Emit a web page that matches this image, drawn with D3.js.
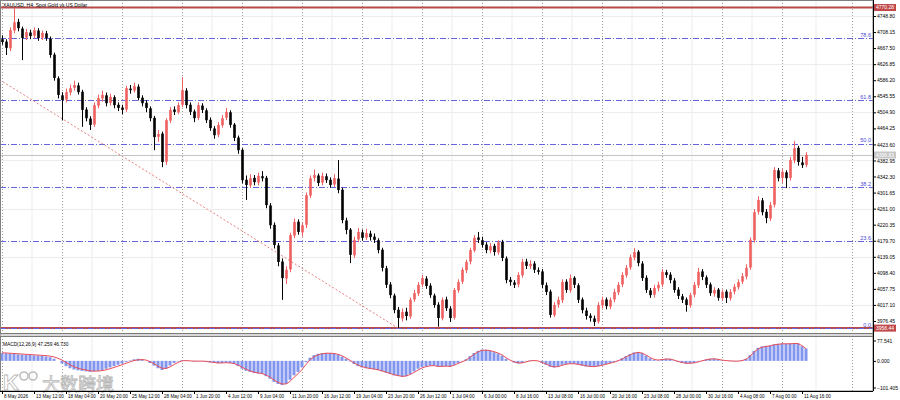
<!DOCTYPE html>
<html lang="en">
<head>
<meta charset="UTF-8">
<title>XAUUSD H4</title>
<script src="https://cdn.jsdelivr.net/npm/d3@7"></script>
<style>
    body { margin: 0; background: #fff; }
    svg { display: block; font-family: "Liberation Sans", Arial, sans-serif; }
</style>
</head>
<body>
<script>
// ---- data (one candle = two H4 bars) ----
const titleText = "XAUUSD, H4:  Spot Gold vs US Dollar";
const macdText = "MACD(12,26,9) 47.259 46.730";

const opens = [
    4690,4684,4667,4712,4734,4717,4694,4707,4699,4712,
    4694,4705,4692,4651,4591,4548,4537,4555,4567,4573,
    4557,4512,4489,4474,4522,4540,4548,4529,4543,4524,
    4517,4512,4565,4560,4570,4542,4529,4515,4491,4443,
    4451,4380,4484,4512,4505,4524,4560,4524,4507,4491,
    4522,4510,4486,4464,4448,4472,4491,4505,4474,4441,
    4410,4334,4320,4339,4327,4343,4339,4269,4220,4168,
    4127,4084,4107,4193,4228,4201,4220,4294,4339,4345,
    4327,4343,4334,4322,4337,4309,4231,4208,4143,4183,
    4201,4188,4198,4190,4181,4157,4110,4069,4041,4005,
    3983,4000,3988,4031,4046,4069,4084,4066,4041,4018,
    3983,4031,4008,3985,4054,4076,4105,4127,4155,4188,
    4181,4170,4155,4167,4150,4177,4135,4081,4074,4069,
    4092,4127,4115,4122,4105,4102,4067,4051,3991,4018,
    4029,4076,4054,4086,4067,4031,4003,3990,3983,3975,
    4016,4031,4013,4031,4049,4069,4092,4112,4137,4152,
    4122,4086,4054,4043,4059,4069,4100,4094,4079,4056,
    4039,4031,4016,4043,4067,4102,4087,4069,4046,4056,
    4034,4051,4034,4051,4062,4076,4089,4112,4181,4253,
    4282,4253,4236,4271,4358,4339,4353,4339,4383,4415,
    4378,4372];
const highs = [
    4700,4690,4720,4768,4742,4722,4716,4714,4720,4718,
    4712,4711,4697,4656,4596,4556,4565,4575,4585,4580,
    4562,4518,4495,4530,4550,4560,4555,4552,4548,4530,
    4524,4572,4574,4580,4576,4548,4535,4520,4496,4460,
    4456,4490,4518,4520,4530,4594,4566,4530,4512,4530,
    4528,4515,4492,4470,4480,4498,4516,4510,4478,4446,
    4414,4345,4348,4346,4352,4356,4344,4275,4226,4174,
    4135,4115,4200,4236,4234,4226,4302,4345,4360,4350,
    4352,4350,4340,4348,4384,4314,4238,4212,4190,4212,
    4208,4210,4205,4198,4186,4162,4116,4075,4046,4012,
    4008,4010,4036,4055,4075,4093,4090,4072,4046,4024,
    4036,4038,4014,4060,4082,4112,4132,4162,4194,4202,
    4190,4176,4174,4172,4181,4182,4140,4088,4080,4100,
    4134,4134,4130,4128,4112,4108,4074,4056,4024,4038,
    4082,4082,4094,4090,4072,4036,4010,3996,3990,4024,
    4038,4036,4036,4058,4075,4100,4118,4145,4161,4156,
    4128,4092,4060,4068,4076,4108,4106,4100,4085,4062,
    4045,4036,4048,4075,4111,4108,4092,4074,4062,4060,
    4056,4056,4057,4070,4082,4098,4120,4188,4260,4292,
    4288,4260,4278,4366,4364,4362,4358,4392,4432,4420,
    4392,4404];
const lows = [
    4676,4650,4660,4705,4710,4637,4688,4690,4692,4686,
    4688,4686,4643,4585,4540,4485,4530,4548,4560,4550,
    4468,4482,4460,4468,4515,4532,4520,4522,4515,4508,
    4500,4506,4552,4555,4535,4520,4505,4482,4409,4430,
    4366,4372,4478,4498,4500,4518,4515,4498,4480,4485,
    4503,4478,4458,4438,4442,4466,4485,4466,4432,4400,
    4325,4283,4314,4320,4320,4330,4262,4210,4160,4115,
    4030,4070,4100,4186,4195,4190,4212,4288,4330,4318,
    4320,4326,4314,4316,4300,4224,4196,4123,4136,4176,
    4180,4182,4180,4174,4148,4102,4060,4034,3996,3959,
    3975,3978,3982,4025,4040,4062,4058,4035,4010,3962,
    3978,4002,3974,3980,4048,4070,4098,4120,4150,4174,
    4162,4148,4148,4142,4144,4128,4072,4066,4060,4062,
    4086,4108,4108,4098,4094,4060,4042,3985,3986,4010,
    4022,4048,4048,4060,4022,3996,3980,3975,3964,3970,
    4008,4006,4006,4024,4042,4062,4086,4106,4130,4115,
    4078,4048,4035,4036,4052,4062,4086,4072,4048,4032,
    4022,4000,4010,4036,4060,4080,4060,4040,4038,4028,
    4028,4022,4028,4044,4056,4070,4082,4106,4175,4246,
    4244,4224,4230,4264,4330,4326,4313,4332,4376,4370,
    4364,4366];
const closes = [
    4683,4668,4713,4733,4718,4693,4708,4698,4713,4693,
    4706,4693,4650,4592,4549,4536,4556,4566,4574,4556,
    4511,4490,4473,4523,4541,4549,4528,4544,4523,4516,
    4511,4566,4561,4571,4541,4528,4516,4490,4442,4450,
    4379,4485,4511,4506,4523,4561,4523,4506,4490,4523,
    4511,4485,4465,4447,4473,4490,4506,4473,4440,4409,
    4333,4321,4338,4328,4344,4338,4270,4219,4169,4126,
    4085,4106,4194,4227,4202,4219,4295,4338,4346,4326,
    4344,4333,4321,4338,4308,4232,4207,4144,4182,4202,
    4187,4199,4189,4182,4156,4111,4068,4042,4004,3984,
    3999,3989,4030,4047,4068,4085,4065,4042,4017,3984,
    4030,4009,3984,4055,4075,4106,4126,4156,4187,4182,
    4169,4156,4166,4151,4176,4136,4080,4075,4068,4093,
    4126,4116,4121,4106,4101,4068,4050,3992,4017,4030,
    4075,4055,4085,4068,4030,4004,3989,3984,3974,4017,
    4030,4014,4030,4050,4068,4093,4111,4138,4151,4123,
    4085,4055,4042,4060,4068,4101,4093,4080,4055,4040,
    4030,4017,4042,4068,4101,4088,4068,4047,4055,4035,
    4050,4035,4050,4063,4075,4090,4111,4182,4252,4283,
    4252,4237,4270,4359,4338,4354,4338,4384,4414,4379,
    4371,4397];

const macdMain = [
    30,29,28,27,25,24,23,22,21,20,
    19,17,14,8,0,-10,-20,-28,-33,-36,
    -38,-40,-42,-40,-38,-35,-30,-25,-20,-15,
    -10,-4,2,6,8,6,0,-8,-18,-28,
    -35,-30,-18,-8,-2,3,2,0,-2,-1,
    -1,-3,-6,-8,-9,-8,-6,-8,-12,-20,
    -30,-38,-42,-46,-48,-50,-58,-68,-80,-88,
    -92,-88,-72,-55,-42,-25,-5,12,22,27,
    29,30,30,28,24,16,8,-2,-12,-20,
    -25,-28,-30,-32,-35,-40,-45,-50,-55,-58,
    -60,-58,-50,-40,-30,-24,-20,-18,-18,-22,
    -20,-20,-22,-15,-8,-2,6,18,30,38,
    43,42,38,33,28,20,8,0,-6,-10,
    -8,-2,2,2,0,-8,-15,-22,-25,-22,
    -15,-12,-10,-11,-14,-18,-21,-22,-22,-20,
    -16,-12,-8,-4,2,10,18,26,32,34,
    30,20,10,4,2,6,8,7,2,-4,
    -8,-11,-10,-8,-3,1,5,8,8,6,
    2,0,-1,-2,-1,2,8,22,38,50,
    55,57,58,63,65,66,65,66,67,66,
    56,47.26];
const macdSignal = [
    31,30,29,28,27,26,25,24,23,22,
    21,20,18,15,10,3,-6,-15,-22,-28,
    -32,-35,-38,-39,-39,-37,-34,-30,-25,-20,
    -15,-9,-4,1,4,5,3,-3,-11,-20,
    -28,-29,-23,-14,-6,0,1,0,-1,-1,
    -1,-2,-4,-6,-8,-8,-7,-8,-10,-16,
    -24,-32,-38,-43,-46,-48,-54,-62,-73,-82,
    -88,-88,-78,-63,-49,-33,-14,4,16,23,
    27,29,29,28,25,19,11,2,-8,-16,
    -22,-26,-29,-31,-34,-38,-43,-48,-53,-56,
    -59,-58,-52,-44,-35,-27,-22,-19,-18,-21,
    -21,-20,-21,-17,-10,-4,3,14,25,34,
    40,41,39,35,30,23,12,3,-4,-8,
    -8,-4,0,1,0,-6,-12,-19,-23,-22,
    -17,-13,-11,-11,-13,-16,-19,-21,-22,-20,
    -17,-13,-9,-5,0,7,15,23,29,32,
    30,22,13,6,3,5,7,7,3,-2,
    -6,-9,-9,-8,-4,0,4,7,8,6,
    3,1,0,-1,-1,1,6,18,33,45,
    52,55,57,61,63,65,65,65,66,66,
    58,46.73];

const priceTicks = [4748.80, 4708.15, 4667.50, 4626.85, 4586.20, 4545.55, 4504.90, 4464.25,
    4423.60, 4382.95, 4342.30, 4301.65, 4261.00, 4220.35, 4179.70, 4139.05, 4098.40, 4057.75,
    4017.10, 3976.45];
const gridPrices = [4748.80, 4626.85, 4504.90, 4382.95, 4261.00, 4139.05, 4017.10];
const macdTicks = [77.541, 0, -101.405];

const dateLabels = ["8 May 2026", "13 May 12:00", "18 May 04:00", "20 May 20:00", "25 May 12:00",
    "28 May 04:00", "1 Jun 20:00", "4 Jun 12:00", "9 Jun 04:00", "11 Jun 20:00", "16 Jun 12:00",
    "19 Jun 04:00", "23 Jun 20:00", "26 Jun 12:00", "1 Jul 04:00", "6 Jul 00:00", "8 Jul 16:00",
    "13 Jul 08:00", "16 Jul 00:00", "20 Jul 16:00", "23 Jul 08:00", "28 Jul 00:00", "30 Jul 16:00",
    "4 Aug 08:00", "7 Aug 00:00", "11 Aug 16:00"];
const labelBars = [0, 8, 16, 24, 32, 40, 48, 56, 64, 72, 80, 88, 96, 104, 112, 120, 128, 136,
    144, 152, 160, 168, 176, 184, 192, 200];
const gridBars = [0, 15, 30, 45, 60, 75, 90, 105, 120, 135, 150, 165, 180, 195, 212.5];
const minorGridBars = [7.5, 22.5, 37.5, 52.5, 67.5, 82.5, 97.5, 112.5, 127.5, 142.5, 157.5,
    172.5, 187.5, 203.5];

const highLine = 4770.28;
const lowLine = 3958.44;
const bidLine = 4396.83;
const fibHigh = 4893.04;
const fibLow = 3958.44;
const fibLevels = [0, 23.6, 38.2, 50.0, 61.8, 78.6];
const fibTrend = [[-49, 4893.04], [99, 3958.44]];

// ---- layout ----
const W = 900, H = 400;
const plotRight = 873;
const mainBottom = 333;
const macdTop = 338, macdBottom = 391;

const bullColor = "#ef6060";
const bearColor = "#000000";
const fibColor = "#6464de";
const redLine = "#b84a4a";

const svg = d3.select("body").append("svg")
    .attr("width", W)
    .attr("height", H)
    .style("background", "#fff");

const defs = svg.append("defs");
defs.append("clipPath").attr("id", "clipMain")
    .append("rect").attr("x", 0).attr("y", 0).attr("width", plotRight).attr("height", mainBottom);
defs.append("clipPath").attr("id", "clipMacd")
    .append("rect").attr("x", 0).attr("y", macdTop).attr("width", plotRight).attr("height", macdBottom - macdTop);

const xscale = d3.scaleLinear().domain([0, 218]).range([2, 874]);
const yscale = d3.scaleLinear().domain([3976.45, 4748.80]).range([321, 16]);
const macdY = d3.scaleLinear().domain([-101.405, 77.541]).range([387.5, 340.5]);

const idx = d3.range(closes.length);

// grid
const grid = svg.append("g");
grid.selectAll(".vminor").data(minorGridBars).join("line")
    .attr("x1", d => xscale(d)).attr("x2", d => xscale(d))
    .attr("y1", 0).attr("y2", macdBottom)
    .attr("stroke", "#ececec").attr("stroke-width", 1);
grid.selectAll(".hminor").data(gridPrices).join("line")
    .attr("x1", 0).attr("x2", plotRight)
    .attr("y1", d => Math.round(yscale(d)) + 0.5).attr("y2", d => Math.round(yscale(d)) + 0.5)
    .attr("stroke", "#ececec").attr("stroke-width", 1);
grid.selectAll(".vmajor").data(gridBars).join("line")
    .attr("x1", d => Math.round(xscale(d)) + 0.5).attr("x2", d => Math.round(xscale(d)) + 0.5)
    .attr("y1", 0).attr("y2", macdBottom)
    .attr("stroke", "#9a9a9a").attr("stroke-width", 1)
    .attr("stroke-dasharray", "1,2");

const main = svg.append("g").attr("clip-path", "url(#clipMain)");

// high / low lines
main.selectAll(".hl").data([highLine, lowLine]).join("line")
    .attr("x1", 0).attr("x2", plotRight)
    .attr("y1", d => yscale(d)).attr("y2", d => yscale(d))
    .attr("stroke", redLine).attr("stroke-width", 2);

// fibonacci levels
const fibPrice = lv => fibLow + (fibHigh - fibLow) * lv / 100;
main.selectAll(".fib").data(fibLevels).join("line")
    .attr("x1", 0).attr("x2", plotRight)
    .attr("y1", d => Math.round(yscale(fibPrice(d))) + 0.5)
    .attr("y2", d => Math.round(yscale(fibPrice(d))) + 0.5)
    .attr("stroke", fibColor).attr("stroke-width", 1)
    .attr("stroke-dasharray", "6,2,1,2");
main.selectAll(".fibtxt").data(fibLevels).join("text")
    .attr("x", plotRight - 2)
    .attr("y", d => yscale(fibPrice(d)) - 1.5)
    .attr("text-anchor", "end")
    .attr("font-size", 5.5)
    .attr("fill", "#4a4ad8")
    .text(d => d.toFixed(1));

// fib trend line
main.append("path")
    .datum(fibTrend)
    .attr("d", d3.line().x(d => xscale(d[0])).y(d => yscale(d[1])))
    .attr("fill", "none")
    .attr("stroke", "#e88080")
    .attr("stroke-width", 1)
    .attr("stroke-dasharray", "2,2");

// bid line
main.append("line")
    .attr("x1", 0).attr("x2", plotRight)
    .attr("y1", Math.round(yscale(bidLine)) + 0.5).attr("y2", Math.round(yscale(bidLine)) + 0.5)
    .attr("stroke", "#c4c4c4").attr("stroke-width", 1);

// candles
const isBull = i => closes[i] >= opens[i];
main.selectAll(".wick").data(idx).join("line")
    .attr("x1", i => xscale(i) + 0.5).attr("x2", i => xscale(i) + 0.5)
    .attr("y1", i => yscale(highs[i])).attr("y2", i => yscale(lows[i]))
    .attr("stroke", i => isBull(i) ? bullColor : bearColor)
    .attr("stroke-width", 1);
main.selectAll(".body").data(idx).join("rect")
    .attr("x", i => xscale(i) - 0.8)
    .attr("width", 2.6)
    .attr("y", i => yscale(Math.max(opens[i], closes[i])))
    .attr("height", i => Math.max(1, Math.abs(yscale(opens[i]) - yscale(closes[i]))))
    .attr("fill", i => isBull(i) ? bullColor : bearColor);

// title
svg.append("text")
    .attr("x", 3).attr("y", 6.5)
    .attr("font-size", 5)
    .attr("fill", "#000")
    .text(titleText);

// MACD panel
const macdG = svg.append("g").attr("clip-path", "url(#clipMacd)");
macdG.selectAll(".hist").data(idx).join("rect")
    .attr("x", i => xscale(i) - 1.5)
    .attr("width", 3)
    .attr("y", i => Math.min(macdY(macdMain[i]), macdY(0)))
    .attr("height", i => Math.abs(macdY(macdMain[i]) - macdY(0)))
    .attr("fill", "#8396ee");
macdG.append("path")
    .datum(idx)
    .attr("d", d3.line().x(i => xscale(i)).y(i => macdY(macdSignal[i])))
    .attr("fill", "none")
    .attr("stroke", "#e8505a")
    .attr("stroke-width", 1);
svg.append("text")
    .attr("x", 3).attr("y", 346)
    .attr("font-size", 4.8)
    .attr("fill", "#000")
    .text(macdText);

// watermark
const wm = svg.append("g").attr("opacity", 0.9);
wm.append("text")
    .attr("x", 3).attr("y", 390)
    .attr("font-size", 22).attr("font-weight", "bold")
    .attr("fill", "#fff").attr("stroke", "#b0b0b0").attr("stroke-width", 0.8)
    .text("K");
wm.selectAll("circle").data([24, 33]).join("circle")
    .attr("cx", d => d).attr("cy", 376).attr("r", 4)
    .attr("fill", "none").attr("stroke", "#b8b8b8").attr("stroke-width", 1.6);
wm.append("text")
    .attr("x", 42).attr("y", 391)
    .attr("font-size", 18)
    .attr("font-family", "'Noto Sans CJK SC', sans-serif")
    .attr("fill", "#fff").attr("stroke", "#b0b0b0").attr("stroke-width", 0.8)
    .text("大数跨境");

// frames and panel separator
svg.append("rect")
    .attr("x", 0.5).attr("y", 0.5).attr("width", plotRight - 0.5).attr("height", macdBottom - 0.5)
    .attr("fill", "none").attr("stroke", "#808080");
svg.append("rect")
    .attr("x", 0).attr("y", 333.5).attr("width", plotRight).attr("height", 3)
    .attr("fill", "#d8d8d8").attr("stroke", "#7a7a7a").attr("stroke-width", 1);
svg.append("line")
    .attr("x1", plotRight + 0.5).attr("x2", plotRight + 0.5).attr("y1", 0).attr("y2", macdBottom)
    .attr("stroke", "#000");
svg.append("line")
    .attr("x1", 0).attr("x2", plotRight).attr("y1", macdBottom + 0.5).attr("y2", macdBottom + 0.5)
    .attr("stroke", "#000");

// right price axis
const styleAxis = g => {
    g.select(".domain").remove();
    g.attr("font-size", 5).attr("font-family", "'Liberation Sans', Arial, sans-serif");
    g.selectAll(".tick line").attr("stroke", "#000");
    g.selectAll(".tick text").attr("fill", "#000");
};
svg.append("g")
    .attr("transform", `translate(${plotRight},0)`)
    .call(d3.axisRight(yscale).tickValues(priceTicks).tickSize(3).tickPadding(1).tickFormat(d3.format(".2f")))
    .call(styleAxis);
svg.append("g")
    .attr("transform", `translate(${plotRight},0)`)
    .call(d3.axisRight(macdY).tickValues(macdTicks).tickSize(3).tickPadding(1).tickFormat(d3.format(".3f")))
    .call(styleAxis);

// price boxes on the axis
const boxes = [
    { p: highLine, fill: "#c04848" },
    { p: lowLine, fill: "#c04848" },
    { p: bidLine, fill: "#c6c6c6" }
];
const boxG = svg.append("g");
boxG.selectAll("rect").data(boxes).join("rect")
    .attr("x", plotRight + 1).attr("width", 22)
    .attr("y", d => yscale(d.p) - 3.5).attr("height", 7)
    .attr("fill", d => d.fill);
boxG.selectAll("text").data(boxes).join("text")
    .attr("x", plotRight + 3).attr("y", d => yscale(d.p) + 1.8)
    .attr("font-size", 5)
    .attr("fill", "#fff")
    .text(d => d.p.toFixed(2));

// bottom time axis
svg.append("g")
    .attr("transform", `translate(0,${macdBottom})`)
    .call(d3.axisBottom(xscale).tickValues(labelBars).tickSize(3).tickPadding(1)
        .tickFormat((d, i) => dateLabels[i]))
    .call(styleAxis)
    .call(g => g.selectAll(".tick text").attr("text-anchor", "start").attr("dx", 1.5).attr("font-size", 4.6));
</script>
</body>
</html>
